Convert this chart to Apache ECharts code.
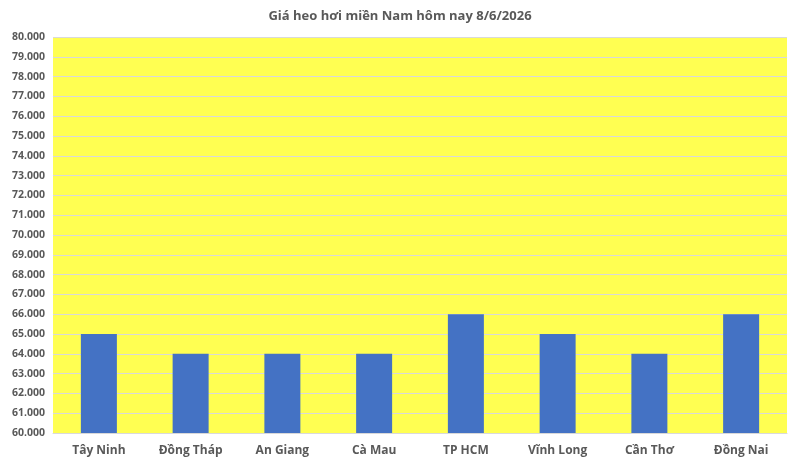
<!DOCTYPE html>
<html>
<head>
<meta charset="utf-8">
<style type="text/css">
html, body {margin: 0; padding: 0; background: #fff;}
#chart {width: 800px; height: 467px;}
</style>
<script src="https://cdn.jsdelivr.net/npm/echarts@6/dist/echarts.min.js"></script>
</head>
<body>
<div id="chart"></div>
<script type="text/javascript">
var titleText = 'Giá heo hơi miền Nam hôm nay 8/6/2026';
var provinces = ['Tây Ninh', 'Đồng Tháp', 'An Giang', 'Cà Mau', 'TP HCM', 'Vĩnh Long', 'Cần Thơ', 'Đồng Nai'];
var prices = [65000, 64000, 64000, 64000, 66000, 65000, 64000, 66000];
var yMin = 60000, yMax = 80000, yStep = 1000;

var textColor = '#595959';
var font = '"Open Sans", sans-serif';

var chart = echarts.init(document.getElementById('chart'));
var option = {
    backgroundColor: '#ffffff',
    title: {
        text: titleText,
        left: 'center',
        top: 5,
        textStyle: {color: textColor, fontSize: 13, fontWeight: 'bold', fontFamily: font}
    },
    grid: {left: 53, right: 13, top: 37, bottom: 34, backgroundColor: '#ffff52', show: true, borderWidth: 0},
    xAxis: {
        type: 'category',
        data: provinces,
        axisLine: {show: true, lineStyle: {color: '#d9d9d9'}},
        axisTick: {show: false},
        axisLabel: {color: textColor, fontSize: 12, fontWeight: 'bold', fontFamily: font, margin: 12}
    },
    yAxis: {
        type: 'value',
        min: yMin,
        max: yMax,
        interval: yStep,
        axisLine: {show: false},
        axisTick: {show: false},
        splitLine: {lineStyle: {color: '#d9d9d9', width: 1}},
        axisLabel: {
            color: textColor, fontSize: 10.5, fontWeight: 'bold', fontFamily: font, margin: 8,
            formatter: function (v) {
                return (v / 1000).toFixed(3);
            }
        }
    },
    series: [{
        type: 'bar',
        data: prices,
        barWidth: 36,
        itemStyle: {color: '#4472c4'}
    }]
};
chart.setOption(option);
</script>
</body>
</html>
